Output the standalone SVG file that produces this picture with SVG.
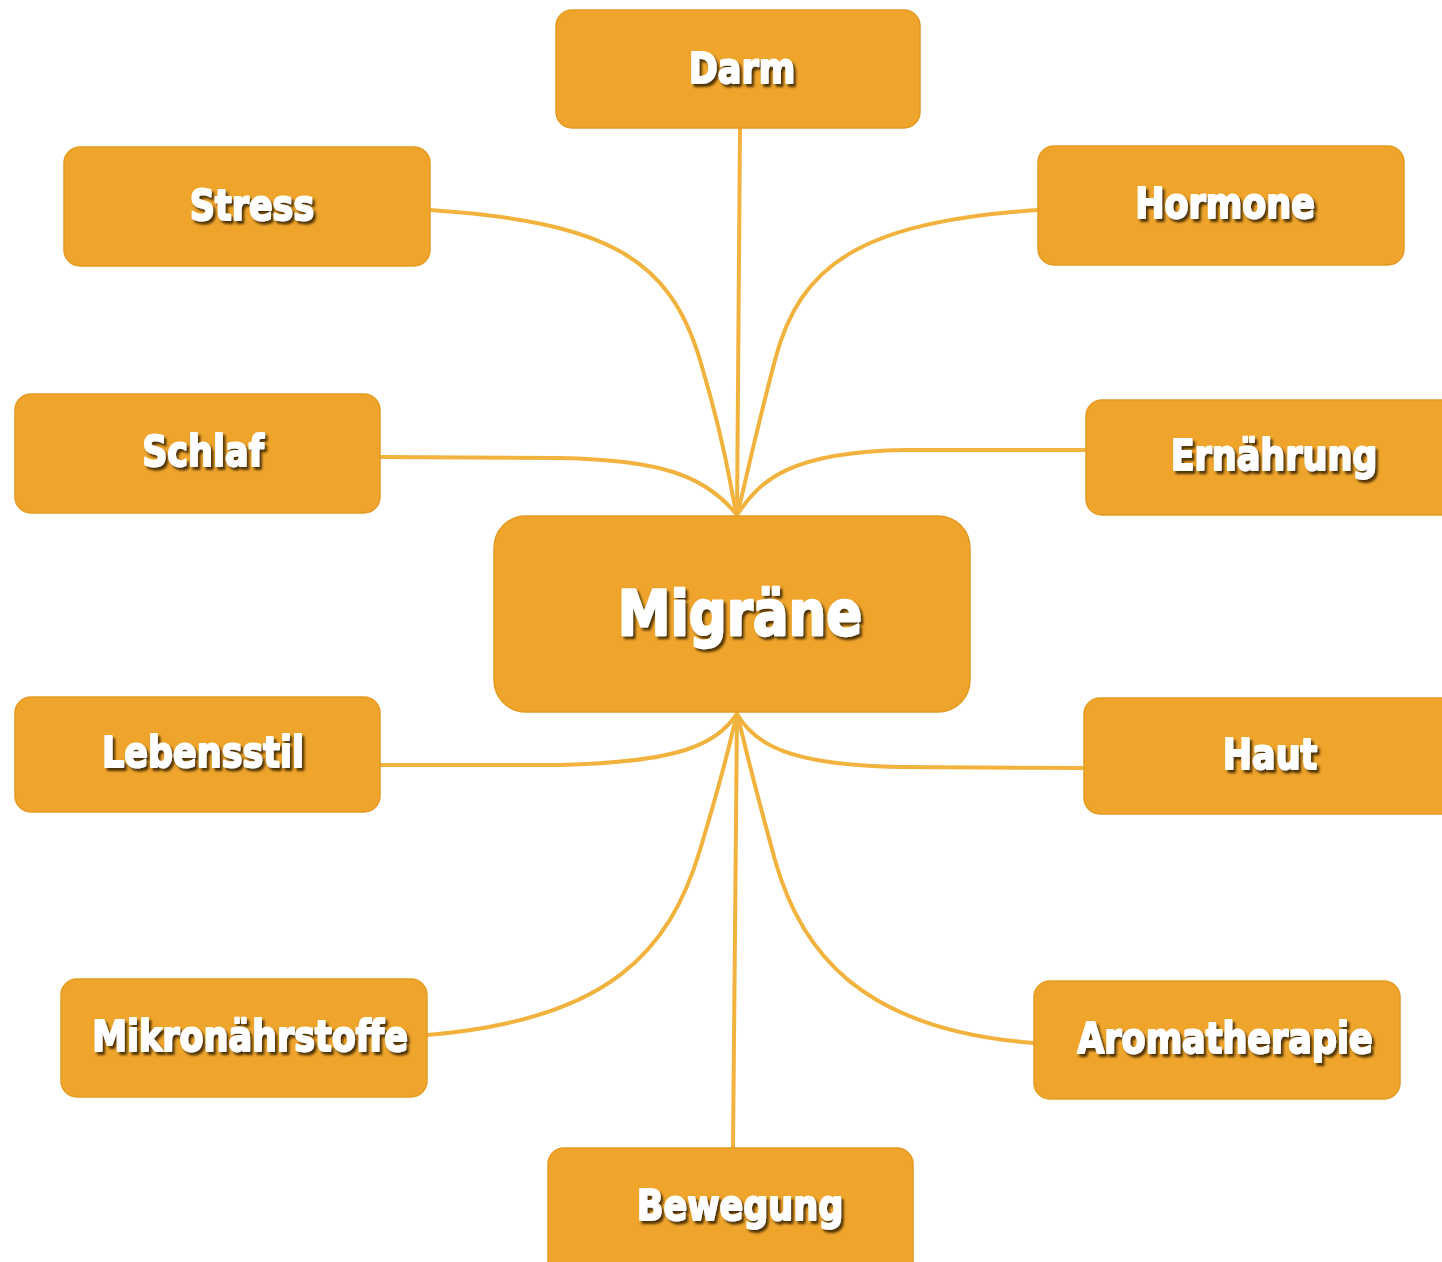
<svg xmlns="http://www.w3.org/2000/svg" width="1442" height="1262" viewBox="0 0 1442 1262">
<defs>
<style>
.box{fill:#EFA52C;stroke:#E59B22;stroke-width:1.5}
.lbl{font-family:"DejaVu Sans",Verdana,sans-serif;font-weight:bold;font-size:35px;fill:#ffffff;stroke:#ffffff;stroke-width:1.6;stroke-linejoin:round;text-anchor:middle;filter:url(#sh)}
.big{font-size:53px;stroke-width:2}
.con{fill:none;stroke:#F1B33E;stroke-width:4;stroke-linecap:round}
</style>
<filter id="sh" x="-10%" y="-20%" width="130%" height="160%">
<feDropShadow dx="2.5" dy="2.5" stdDeviation="1" flood-color="#3f2800" flood-opacity="0.9"/>
</filter>
</defs>
<rect width="1442" height="1262" fill="#ffffff"/>
<g id="connectors">
<path class="con" d="M740,128 L737,515"/>
<path class="con" d="M430,210 C610,222 670,260 700,360 S730,490 737,515"/>
<path class="con" d="M1038,210 C860,222 800,265 775,360 S744,490 737,515"/>
<path class="con" d="M380,457 L560,458 C660,460 705,475 737,515"/>
<path class="con" d="M1086,450 L905,450 C790,452 760,480 737,515"/>
<path class="con" d="M380,765 L560,765 C680,762 715,745 737,714"/>
<path class="con" d="M1084,768 L900,767 C790,765 755,745 737,714"/>
<path class="con" d="M427,1035 C610,1020 670,950 700,850 S730,740 737,714"/>
<path class="con" d="M1034,1043 C860,1030 800,950 775,860 S744,740 737,714"/>
<path class="con" d="M737,714 L733,1148"/>
</g>
<g id="darm"><rect class="box" x="556" y="10" width="364" height="118" rx="16"/><text class="lbl" transform="translate(742,83) scale(1,1.22)">Darm</text></g>
<g id="stress"><rect class="box" x="64" y="147" width="366" height="119" rx="16"/><text class="lbl" transform="translate(252,220) scale(1,1.22)">Stress</text></g>
<g id="hormone"><rect class="box" x="1038" y="146" width="366" height="119" rx="16"/><text class="lbl" transform="translate(1225,218) scale(1,1.22)">Hormone</text></g>
<g id="schlaf"><rect class="box" x="15" y="394" width="365" height="119" rx="16"/><text class="lbl" transform="translate(203,466) scale(1,1.22)">Schlaf</text></g>
<g id="ernaehrung"><rect class="box" x="1086" y="400" width="370" height="115" rx="16"/><text class="lbl" transform="translate(1274,470) scale(1,1.22)">Ernährung</text></g>
<g id="migraene"><rect class="box" x="494" y="516" width="476" height="196" rx="32"/><text class="lbl big" transform="translate(740,635) scale(1,1.17)">Migräne</text></g>
<g id="lebensstil"><rect class="box" x="15" y="697" width="365" height="115" rx="16"/><text class="lbl" transform="translate(203,767) scale(1,1.22)">Lebensstil</text></g>
<g id="haut"><rect class="box" x="1084" y="698" width="372" height="116" rx="16"/><text class="lbl" transform="translate(1270,769) scale(1,1.22)">Haut</text></g>
<g id="mikronaehrstoffe"><rect class="box" x="61" y="979" width="366" height="118" rx="16"/><text class="lbl" transform="translate(250,1051) scale(1,1.22)">Mikronährstoffe</text></g>
<g id="aromatherapie"><rect class="box" x="1034" y="981" width="366" height="118" rx="16"/><text class="lbl" transform="translate(1225,1053) scale(1,1.22)">Aromatherapie</text></g>
<g id="bewegung"><rect class="box" x="548" y="1148" width="365" height="130" rx="16"/><text class="lbl" transform="translate(740,1220) scale(1,1.22)">Bewegung</text></g>
</svg>
